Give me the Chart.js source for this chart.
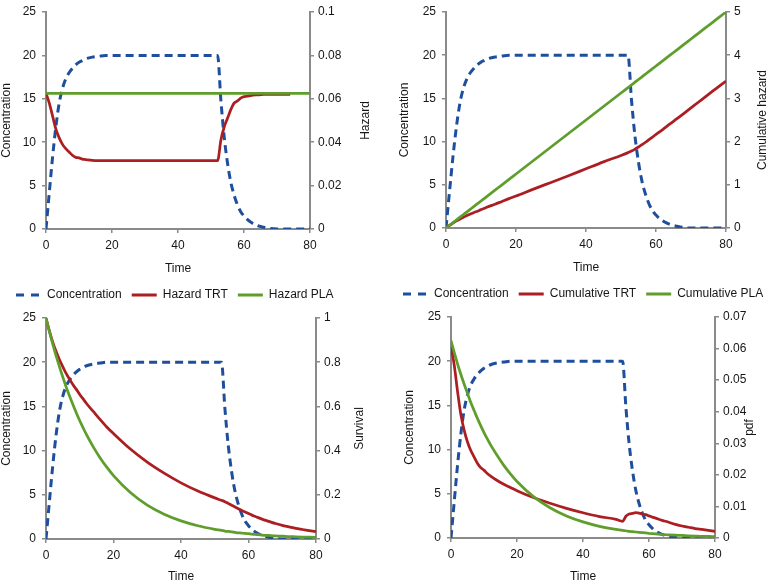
<!DOCTYPE html>
<html><head><meta charset="utf-8">
<script src="https://cdn.jsdelivr.net/npm/chart.js@4.4.1/dist/chart.umd.min.js"></script>
<style>
html,body{margin:0;padding:0;background:#fff;}
body{width:777px;height:583px;position:relative;overflow:hidden;}
canvas{position:absolute;}
</style></head><body>
<canvas id="c1" width="388" height="311" style="left:0;top:0"></canvas>
<canvas id="c2" width="392" height="310" style="left:385px;top:0"></canvas>
<canvas id="c3" width="388" height="283" style="left:0;top:300px"></canvas>
<canvas id="c4" width="392" height="283" style="left:385px;top:300px"></canvas>
<script>
// ---- data ----
const T = [0,1,2,3,4,5,6,7,8,9,10,11,12,14,16,18,20,25,30,35,40,45,50,52,53,54,55,56,57,58,59,60,61,62,64,66,68,70,72,74,76,78,80];
const concentration = [0,4.2,8.3,11.8,14.5,16.2,17.3,18.0,18.5,18.9,19.2,19.4,19.6,19.8,19.9,20,20,20,20,20,20,20,20,20,14.8,10.6,7.6,5.4,3.9,2.8,2.0,1.5,1.1,0.8,0.4,0.2,0.05,0,0,0,0,0,0];
const hazardTRT = [0.0625,0.058,0.052,0.046,0.042,0.039,0.037,0.0355,0.034,0.033,0.0328,0.0322,0.032,0.0316,0.0315,0.0315,0.0315,0.0315,0.0315,0.0315,0.0315,0.0315,0.0315,0.0315,0.041,0.047,0.051,0.055,0.058,0.059,0.0603,0.061,0.0612,0.0615,0.0618,0.062,0.062,0.062,0.062,0.062,null,null,null];
const hazardPLA = [0.0625,0.0625,0.0625,0.0625,0.0625,0.0625,0.0625,0.0625,0.0625,0.0625,0.0625,0.0625,0.0625,0.0625,0.0625,0.0625,0.0625,0.0625,0.0625,0.0625,0.0625,0.0625,0.0625,0.0625,0.0625,0.0625,0.0625,0.0625,0.0625,0.0625,0.0625,0.0625,0.0625,0.0625,0.0625,0.0625,0.0625,0.0625,0.0625,0.0625,0.0625,0.0625,0.0625];
const cumulativeTRT = [0,0.06,0.115,0.165,0.21,0.25,0.29,0.325,0.36,0.39,0.425,0.455,0.49,0.55,0.615,0.68,0.74,0.9,1.055,1.21,1.37,1.53,1.68,1.745,1.78,1.825,1.875,1.93,1.985,2.045,2.105,2.165,2.225,2.285,2.41,2.53,2.655,2.78,2.905,3.03,3.155,3.28,3.4];
const cumulativePLA = [0,0.0625,0.125,0.1875,0.25,0.3125,0.375,0.4375,0.5,0.5625,0.625,0.6875,0.75,0.875,1,1.125,1.25,1.5625,1.875,2.1875,2.5,2.8125,3.125,3.25,3.3125,3.375,3.4375,3.5,3.5625,3.625,3.6875,3.75,3.8125,3.875,4,4.125,4.25,4.375,4.5,4.625,4.75,4.875,5];
const survivalTRT = [1,0.942,0.891,0.848,0.811,0.779,0.748,0.723,0.698,0.677,0.654,0.634,0.613,0.577,0.541,0.507,0.477,0.407,0.348,0.298,0.254,0.217,0.186,0.175,0.169,0.161,0.153,0.145,0.137,0.129,0.122,0.115,0.108,0.102,0.090,0.080,0.070,0.062,0.055,0.048,0.043,0.038,0.033];
const survivalPLA = [1,0.939,0.882,0.829,0.779,0.732,0.687,0.646,0.607,0.570,0.535,0.503,0.472,0.417,0.368,0.325,0.287,0.210,0.153,0.112,0.082,0.060,0.044,0.039,0.036,0.034,0.032,0.030,0.028,0.027,0.025,0.024,0.022,0.021,0.018,0.016,0.014,0.013,0.011,0.010,0.009,0.008,0.007];
const pdfTRT = [0.061,0.0546,0.0463,0.039,0.0341,0.0304,0.0277,0.0257,0.0237,0.0223,0.0215,0.0204,0.0196,0.0182,0.0170,0.0160,0.0150,0.0128,0.0110,0.0094,0.0080,0.0068,0.0059,0.0053,0.0069,0.0076,0.0078,0.0080,0.0079,0.0076,0.0074,0.0070,0.0066,0.0063,0.0056,0.0050,0.0043,0.0038,0.0034,0.0030,0.0027,0.0024,0.0021];
const pdfPLA = [0.0625,0.0587,0.0551,0.0518,0.0487,0.0458,0.0429,0.0404,0.0379,0.0356,0.0334,0.0314,0.0295,0.0261,0.0230,0.0203,0.0179,0.0131,0.0096,0.0070,0.0051,0.0037,0.0027,0.0024,0.0023,0.0021,0.0020,0.0019,0.0018,0.0017,0.0016,0.0015,0.0014,0.0013,0.0011,0.0010,0.0009,0.0008,0.0007,0.0006,0.0005,0.0005,0.0004];

const timeTicks = [0,20,40,60,80];
const concTicks = [0,5,10,15,20,25];
const hazardTicks = [0,0.02,0.04,0.06,0.08,0.1];
const cumulativeTicks = [0,1,2,3,4,5];
const survivalTicks = [0,0.2,0.4,0.6,0.8,1];
const pdfTicks = [0,0.01,0.02,0.03,0.04,0.05,0.06,0.07];

const hazardLabels = ['Concentration','Hazard TRT','Hazard PLA'];
const cumulativeLabels = ['Concentration','Cumulative TRT','Cumulative PLA'];
const survivalLabels = ['Concentration','Survival TRT','Survival PLA'];
const pdfLabels = ['Concentration','pdf TRT','pdf PLA'];

// ---- styling ----
const FAMILY = '"Liberation Sans", Arial, Helvetica, sans-serif';
const TXT = '#161616';
const AXIS = '#8a8a8a';
const BLUE = '#1f4f9c';
const RED = '#ab1e22';
const GREEN = '#5f9e2c';

const rightTitlePlugin = {
  id: 'rightTitle',
  afterDraw(chart, args, opts) {
    const {ctx, chartArea} = chart;
    ctx.save();
    ctx.translate(opts.x, (chartArea.top + chartArea.bottom) / 2 + (opts.dy || 0));
    ctx.rotate(-Math.PI / 2);
    ctx.font = '12px ' + FAMILY;
    ctx.fillStyle = TXT;
    ctx.textAlign = 'center';
    ctx.textBaseline = 'middle';
    ctx.fillText(opts.text, 0, 0);
    ctx.restore();
  }
};

function build(id, c) {
  const pts = arr => T.map((t, i) => ({x: t, y: arr[i]}));
  const grid = {drawOnChartArea: false, drawTicks: true, tickLength: 4, color: AXIS, lineWidth: 1.5};
  const border = {display: true, color: AXIS, width: 2};
  const tickFont = {family: FAMILY, size: 12, lineHeight: 1};
  const titleFont = {family: FAMILY, size: 12, lineHeight: 1.2};
  return new Chart(document.getElementById(id), {
    type: 'line',
    data: {datasets: [
      {label: c.labels[0], data: pts(concentration), yAxisID: 'yL', borderColor: BLUE, borderWidth: 3, borderDash: [8, 5], order: 3},
      {label: c.labels[1], data: pts(c.trt), yAxisID: 'yR', borderColor: RED, borderWidth: 2.75, order: 2},
      {label: c.labels[2], data: pts(c.pla), yAxisID: 'yR', borderColor: GREEN, borderWidth: 2.75, order: 1}
    ]},
    options: {
      responsive: false, animation: false, devicePixelRatio: 1,
      layout: {padding: c.pad},
      elements: {point: {radius: 0}, line: {cubicInterpolationMode: 'monotone', fill: false, borderJoinStyle: 'round'}},
      scales: {
        x: {
          type: 'linear', min: 0, max: 80,
          afterBuildTicks: s => { s.ticks = timeTicks.map(v => ({value: v})); },
          afterFit: s => { s.height = c.xh; },
          grid, border,
          ticks: {font: tickFont, color: TXT, padding: 7, maxRotation: 0, callback: v => String(v)},
          title: {display: true, text: 'Time', font: titleFont, color: TXT, padding: {top: 0, bottom: c.tpb}}
        },
        yL: {
          type: 'linear', position: 'left', min: 0, max: 25,
          afterBuildTicks: s => { s.ticks = concTicks.map(v => ({value: v})); },
          afterFit: s => { s.width = c.lw; },
          grid, border,
          ticks: {font: tickFont, color: TXT, padding: 6, callback: v => String(v)},
          title: {display: true, text: 'Concentration', font: titleFont, color: TXT, padding: {top: c.ltp, bottom: 0}}
        },
        yR: {
          type: 'linear', position: 'right', min: c.rticks[0], max: c.rticks[c.rticks.length - 1],
          afterBuildTicks: s => { s.ticks = c.rticks.map(v => ({value: v})); },
          afterFit: s => { s.width = c.rw; },
          grid, border,
          ticks: {font: tickFont, color: TXT, padding: 4, callback: v => String(v)}
        }
      },
      plugins: {
        tooltip: {enabled: false},
        rightTitle: {text: c.rtitle, x: c.rtx, dy: c.rdy || 0},
        legend: {
          display: c.legend, position: 'bottom', align: 'start',
          labels: {
            boxWidth: 25, boxHeight: 0, padding: 10,
            font: {family: FAMILY, size: 12}, color: TXT,
            generateLabels: chart => chart.data.datasets.map((ds, i) => ({
              text: ds.label, fillStyle: 'rgba(0,0,0,0)', strokeStyle: ds.borderColor,
              lineWidth: 3, lineDash: ds.borderDash ? [8, 7, 8, 100] : [], lineDashOffset: 0,
              lineCap: 'butt', hidden: false, datasetIndex: i, fontColor: TXT
            }))
          }
        }
      }
    },
    plugins: [rightTitlePlugin]
  });
}

build('c1', {labels: hazardLabels, trt: hazardTRT, pla: hazardPLA, rticks: hazardTicks, rtitle: 'Hazard',
  pad: {left: 6, top: 7, right: 0, bottom: 0}, lw: 40, ltp: -7, rw: 78, rtx: 366, xh: 50, tpb: 3, legend: true});
build('c2', {labels: cumulativeLabels, trt: cumulativeTRT, pla: cumulativePLA, rticks: cumulativeTicks, rtitle: 'Cumulative hazard',
  pad: {left: 8, top: 6, right: 0, bottom: 0}, lw: 53, ltp: 4.5, rw: 51, rtx: 378, xh: 50, tpb: 3, legend: true});
build('c3', {labels: survivalLabels, trt: survivalTRT, pla: survivalPLA, rticks: survivalTicks, rtitle: 'Survival',
  pad: {left: 0, top: 18, right: 0, bottom: 0}, lw: 46, ltp: -1, rw: 72, rtx: 360, xh: 44, tpb: -1, legend: false});
build('c4', {labels: pdfLabels, trt: pdfTRT, pla: pdfPLA, rticks: pdfTicks, rtitle: 'pdf',
  pad: {left: 0, top: 17, right: 0, bottom: 0}, lw: 66, ltp: 17.5, rw: 62, rtx: 365, rdy: 0, xh: 45, tpb: -1, legend: false});
</script>
</body></html>
